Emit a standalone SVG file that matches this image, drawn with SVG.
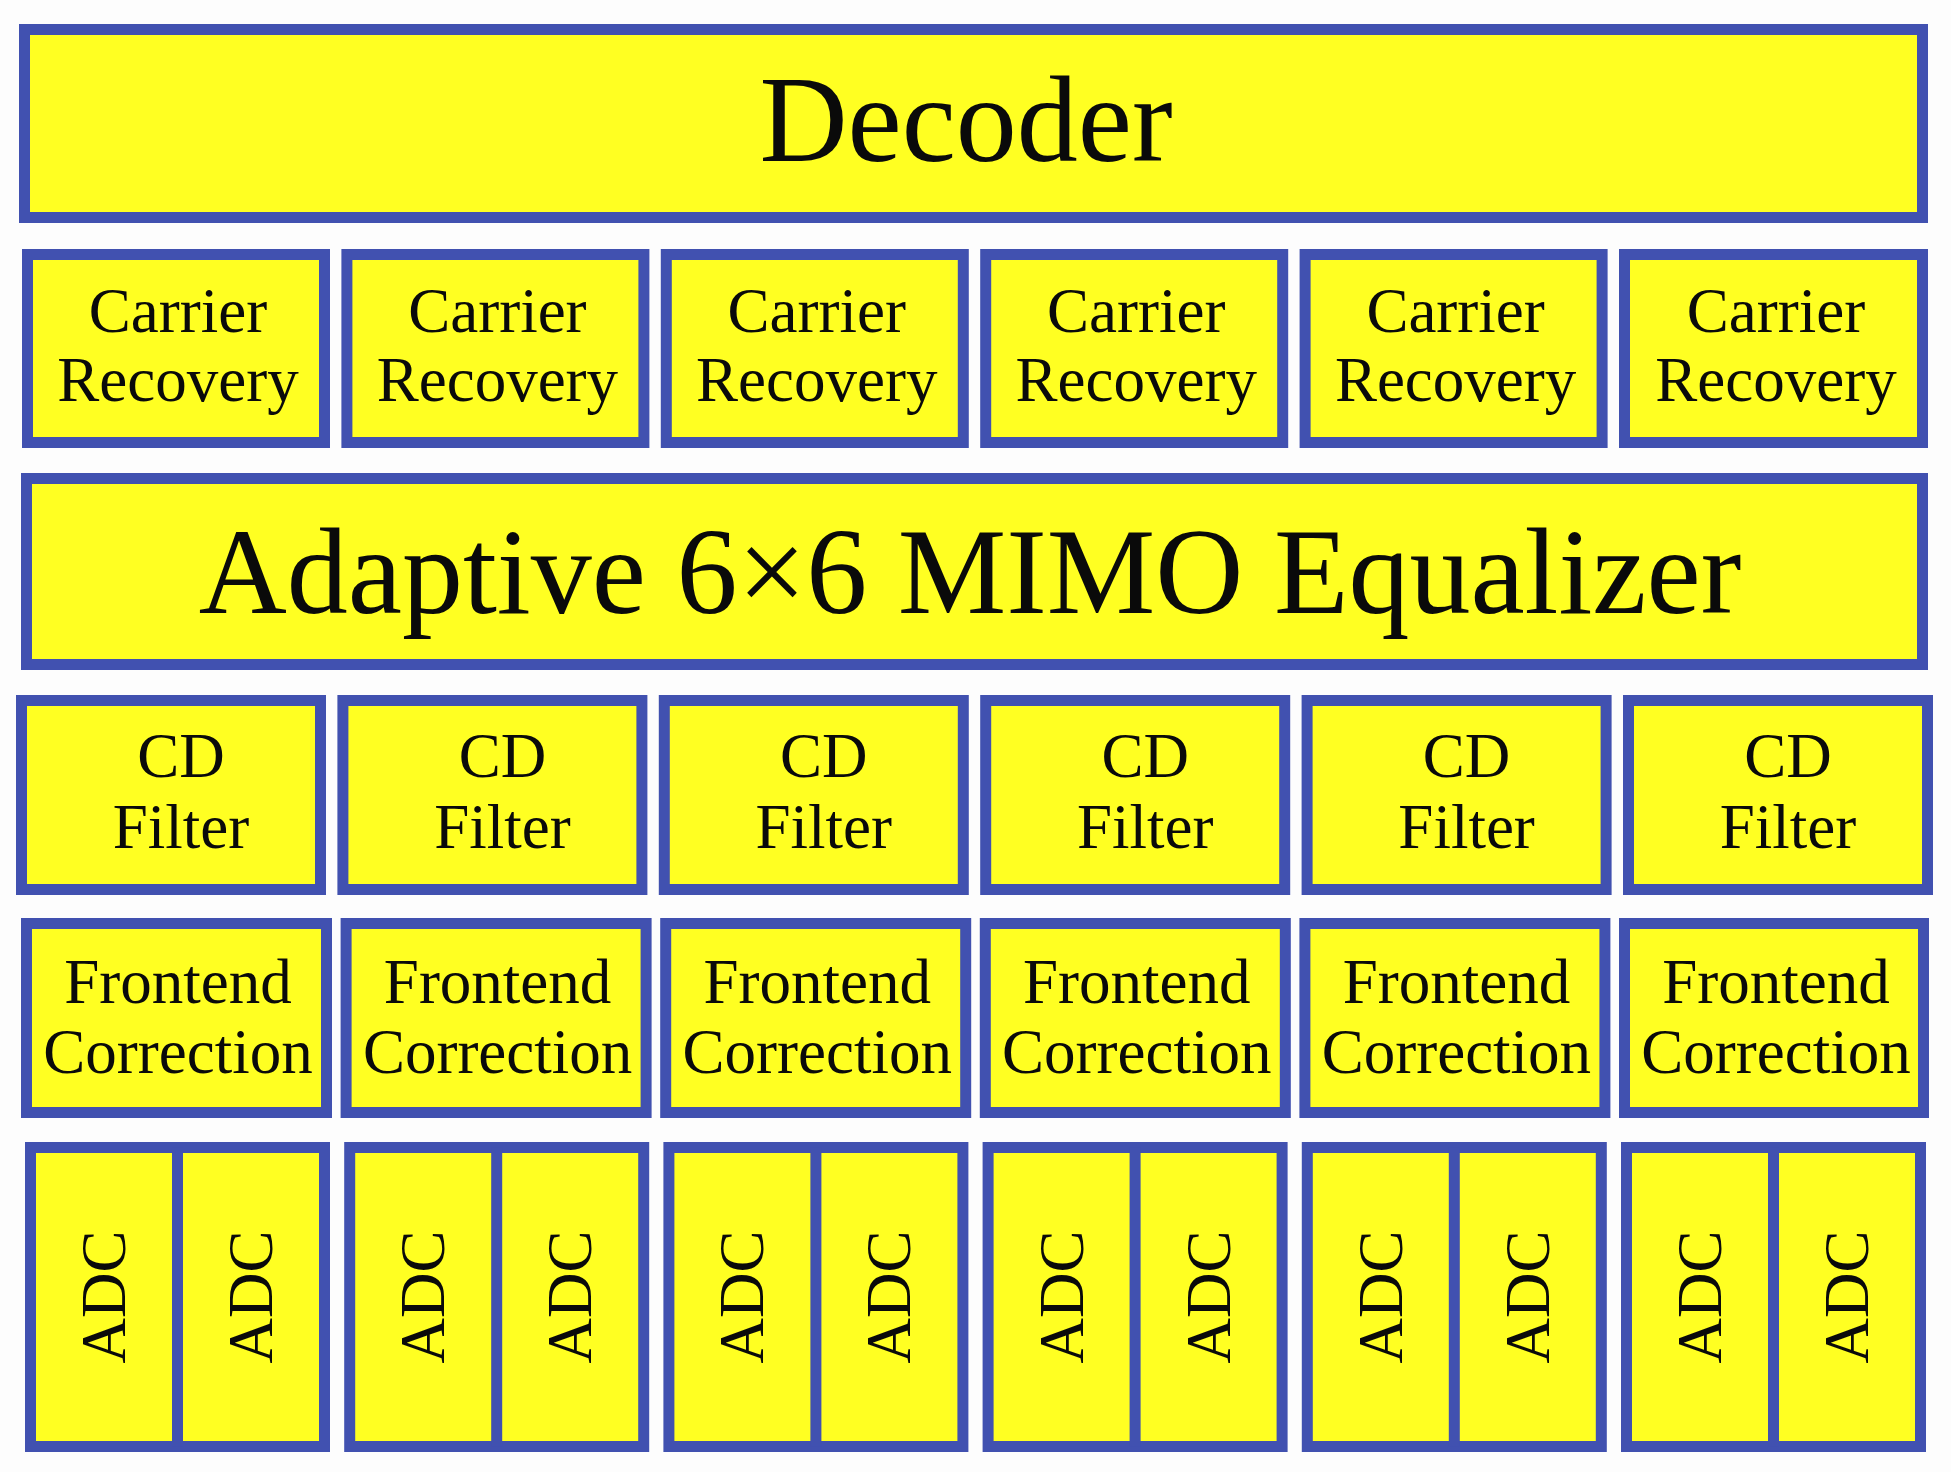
<svg xmlns="http://www.w3.org/2000/svg" width="1951" height="1472" viewBox="0 0 1951 1472">
<style>
.b{fill:#FFFF22;stroke:#4151B0;stroke-width:11}
.t{font-family:"Liberation Serif","Times New Roman",serif;fill:#0a0a0a;text-anchor:middle}
.s{font-size:63px}
.big{font-size:122px}
.l{stroke:#4151B0;stroke-width:11}
</style>
<rect width="1951" height="1472" fill="#FDFDFD"/>
<g id="decoder"><rect class="b" x="24.5" y="29.5" width="1898" height="188"/><text class="t big" x="966" y="161">Decoder</text></g>
<g id="carrier-recovery">
<g id="cr1"><rect class="b" x="27.5" y="254.5" width="297" height="188"/><text class="t s" x="178" y="332">Carrier</text><text class="t s" x="178" y="401">Recovery</text></g>
<g id="cr2"><rect class="b" x="346.9" y="254.5" width="297" height="188"/><text class="t s" x="497.4" y="332">Carrier</text><text class="t s" x="497.4" y="401">Recovery</text></g>
<g id="cr3"><rect class="b" x="666.3" y="254.5" width="297" height="188"/><text class="t s" x="816.8" y="332">Carrier</text><text class="t s" x="816.8" y="401">Recovery</text></g>
<g id="cr4"><rect class="b" x="985.7" y="254.5" width="297" height="188"/><text class="t s" x="1136.2" y="332">Carrier</text><text class="t s" x="1136.2" y="401">Recovery</text></g>
<g id="cr5"><rect class="b" x="1305.1" y="254.5" width="297" height="188"/><text class="t s" x="1455.6" y="332">Carrier</text><text class="t s" x="1455.6" y="401">Recovery</text></g>
<g id="cr6"><rect class="b" x="1624.5" y="254.5" width="298" height="188"/><text class="t s" x="1776" y="332">Carrier</text><text class="t s" x="1776" y="401">Recovery</text></g>
</g>
<g id="equalizer"><rect class="b" x="26.5" y="478.5" width="1896" height="186"/><text class="t big" x="970" y="613">Adaptive 6×6 MIMO Equalizer</text></g>
<g id="cd-filters">
<g id="cd1"><rect class="b" x="21.5" y="700.5" width="299" height="189"/><text class="t s" x="181" y="777">CD</text><text class="t s" x="181" y="848">Filter</text></g>
<g id="cd2"><rect class="b" x="342.9" y="700.5" width="299" height="189"/><text class="t s" x="502.4" y="777">CD</text><text class="t s" x="502.4" y="848">Filter</text></g>
<g id="cd3"><rect class="b" x="664.3" y="700.5" width="299" height="189"/><text class="t s" x="823.8" y="777">CD</text><text class="t s" x="823.8" y="848">Filter</text></g>
<g id="cd4"><rect class="b" x="985.7" y="700.5" width="299" height="189"/><text class="t s" x="1145.2" y="777">CD</text><text class="t s" x="1145.2" y="848">Filter</text></g>
<g id="cd5"><rect class="b" x="1307.1" y="700.5" width="299" height="189"/><text class="t s" x="1466.6" y="777">CD</text><text class="t s" x="1466.6" y="848">Filter</text></g>
<g id="cd6"><rect class="b" x="1628.5" y="700.5" width="299" height="189"/><text class="t s" x="1788" y="777">CD</text><text class="t s" x="1788" y="848">Filter</text></g>
</g>
<g id="frontend">
<g id="fe1"><rect class="b" x="26.5" y="923.5" width="300" height="189"/><text class="t s" x="178" y="1003">Frontend</text><text class="t s" x="178" y="1073">Correction</text></g>
<g id="fe2"><rect class="b" x="346.1" y="923.5" width="300" height="189"/><text class="t s" x="497.6" y="1003">Frontend</text><text class="t s" x="497.6" y="1073">Correction</text></g>
<g id="fe3"><rect class="b" x="665.7" y="923.5" width="300" height="189"/><text class="t s" x="817.2" y="1003">Frontend</text><text class="t s" x="817.2" y="1073">Correction</text></g>
<g id="fe4"><rect class="b" x="985.3" y="923.5" width="300" height="189"/><text class="t s" x="1136.8" y="1003">Frontend</text><text class="t s" x="1136.8" y="1073">Correction</text></g>
<g id="fe5"><rect class="b" x="1304.9" y="923.5" width="300" height="189"/><text class="t s" x="1456.4" y="1003">Frontend</text><text class="t s" x="1456.4" y="1073">Correction</text></g>
<g id="fe6"><rect class="b" x="1624.5" y="923.5" width="299" height="189"/><text class="t s" x="1776" y="1003">Frontend</text><text class="t s" x="1776" y="1073">Correction</text></g>
</g>
<g id="adcs">
<g id="adc1"><rect class="b" x="30.5" y="1147.5" width="294" height="299"/><line class="l" x1="177.5" y1="1147.5" x2="177.5" y2="1446.5"/><text class="t s" transform="translate(125,1297) rotate(-90)">ADC</text><text class="t s" transform="translate(272,1297) rotate(-90)">ADC</text></g>
<g id="adc2"><rect class="b" x="349.7" y="1147.5" width="294" height="299"/><line class="l" x1="496.7" y1="1147.5" x2="496.7" y2="1446.5"/><text class="t s" transform="translate(444.2,1297) rotate(-90)">ADC</text><text class="t s" transform="translate(591.2,1297) rotate(-90)">ADC</text></g>
<g id="adc3"><rect class="b" x="668.9" y="1147.5" width="294" height="299"/><line class="l" x1="815.9" y1="1147.5" x2="815.9" y2="1446.5"/><text class="t s" transform="translate(763.4,1297) rotate(-90)">ADC</text><text class="t s" transform="translate(910.4,1297) rotate(-90)">ADC</text></g>
<g id="adc4"><rect class="b" x="988.1" y="1147.5" width="294" height="299"/><line class="l" x1="1135.1" y1="1147.5" x2="1135.1" y2="1446.5"/><text class="t s" transform="translate(1082.6,1297) rotate(-90)">ADC</text><text class="t s" transform="translate(1229.6,1297) rotate(-90)">ADC</text></g>
<g id="adc5"><rect class="b" x="1307.3" y="1147.5" width="294" height="299"/><line class="l" x1="1454.3" y1="1147.5" x2="1454.3" y2="1446.5"/><text class="t s" transform="translate(1401.8,1297) rotate(-90)">ADC</text><text class="t s" transform="translate(1548.8,1297) rotate(-90)">ADC</text></g>
<g id="adc6"><rect class="b" x="1626.5" y="1147.5" width="294" height="299"/><line class="l" x1="1773.5" y1="1147.5" x2="1773.5" y2="1446.5"/><text class="t s" transform="translate(1721,1297) rotate(-90)">ADC</text><text class="t s" transform="translate(1868,1297) rotate(-90)">ADC</text></g>
</g>
<g id="connectors"/>
</svg>
